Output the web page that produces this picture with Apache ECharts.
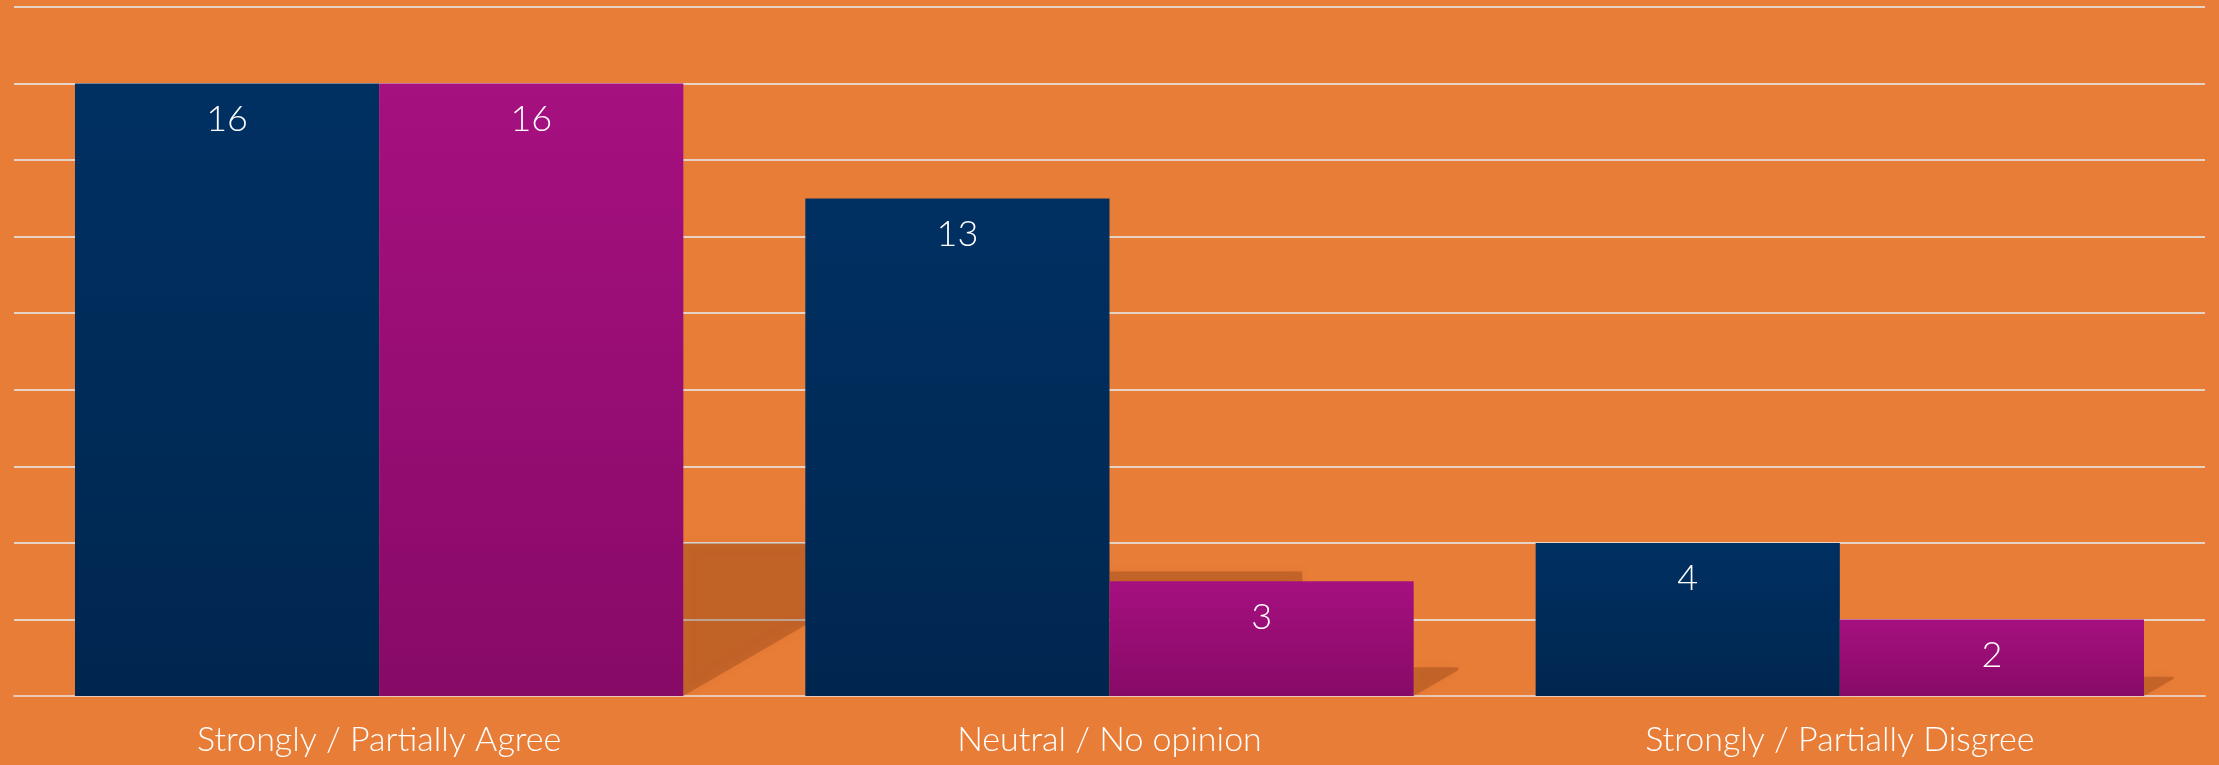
<!DOCTYPE html>
<html>
<head>
<meta charset="utf-8">
<script src="https://cdn.jsdelivr.net/npm/echarts@6/dist/echarts.min.js"></script>
<style>
html,body{margin:0;padding:0;background:#E87D37;}
#chart{width:2219px;height:765px;}
</style>
</head>
<body>
<div id="chart"></div>
<script>
const categories = ['Strongly / Partially Agree', 'Neutral / No opinion', 'Strongly / Partially Disgree'];
const seriesA = [16, 13, 4];
const seriesB = [16, 3, 2];
const yMin = 0, yMax = 18, yInterval = 2;

const CAT_GAP = 0.167;
const shadowData = [];
seriesA.forEach((v, i) => shadowData.push([i, v, 0]));
seriesB.forEach((v, i) => shadowData.push([i, v, 1]));

const chart = echarts.init(document.getElementById('chart'));
const labelFont = 'Lato, "Open Sans", sans-serif';
chart.setOption({
  backgroundColor: '#E87D37',
  animation: false,
  grid: { left: 14, right: 14, top: 7, bottom: 69, containLabel: false },
  xAxis: {
    type: 'category',
    data: categories,
    axisLine: { show: true, lineStyle: { color: '#E9C9B3', width: 2 } },
    axisTick: { show: false },
    axisLabel: { color: '#ffffff', fontSize: 34, fontWeight: 300, fontFamily: labelFont, margin: 27 }
  },
  yAxis: {
    type: 'value', min: yMin, max: yMax, interval: yInterval,
    axisLabel: { show: false },
    axisLine: { show: false }, axisTick: { show: false },
    splitLine: { lineStyle: { color: '#E6D3C6', width: 2 } }
  },
  series: [
    {
      type: 'custom',
      z: 1,
      silent: true,
      data: shadowData,
      renderItem: function (params, api) {
        const cat = api.value(0), v = api.value(1), s = api.value(2);
        const base = api.coord([cat, 0]);
        const top = api.coord([cat, v * 0.25]);
        const band = api.size([1, 0])[0];
        const bw = band * (1 - CAT_GAP) / 2;
        const xr = base[0] + (s === 0 ? 0 : bw);
        const h = base[1] - top[1];
        return {
          type: 'polygon',
          shape: { points: [[xr, base[1]], [xr, top[1]], [xr + 1.55 * h, top[1]], [xr + 1.55 * h, top[1] + 0.1 * h]] },
          style: { fill: 'rgba(90,30,0,0.24)', shadowBlur: 12, shadowColor: 'rgba(90,30,0,0.2)' }
        };
      }
    },
    {
      type: 'bar', z: 2,
      data: seriesA,
      barGap: '0%', barCategoryGap: (CAT_GAP * 100) + '%',
      itemStyle: { color: new echarts.graphic.LinearGradient(0, 0, 0, 1, [{ offset: 0, color: '#003062' }, { offset: 1, color: '#00264F' }]) },
      label: { show: true, position: 'insideTop', distance: 18, color: '#ffffff', fontSize: 36, fontWeight: 300, fontFamily: labelFont }
    },
    {
      type: 'bar', z: 2,
      data: seriesB,
      barGap: '0%', barCategoryGap: (CAT_GAP * 100) + '%',
      itemStyle: { color: new echarts.graphic.LinearGradient(0, 0, 0, 1, [{ offset: 0, color: '#A61080' }, { offset: 1, color: '#870A67' }]) },
      label: { show: true, position: 'insideTop', distance: 18, color: '#ffffff', fontSize: 36, fontWeight: 300, fontFamily: labelFont }
    }
  ]
});
</script>
</body>
</html>
